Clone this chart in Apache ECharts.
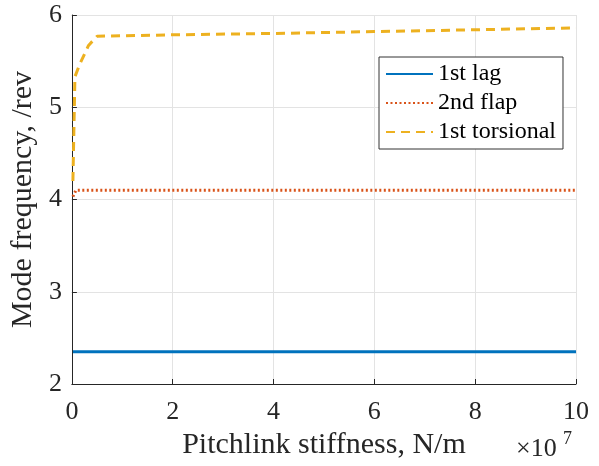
<!DOCTYPE html>
<html>
<head>
<meta charset="utf-8">
<script src="https://cdn.jsdelivr.net/npm/echarts@6/dist/echarts.min.js"></script>
<style>
  html, body { margin: 0; padding: 0; background: #fff; }
  #chart { width: 599px; height: 466px; }
</style>
</head>
<body>
<div id="chart"></div>
<script>
// stiffness in units of 1e7 N/m
const lagX = [0.02, 10];
const lagY = [2.35, 2.35];
const flapX = [0.02, 0.08, 10];
const flapY = [4.03, 4.1, 4.1];
const torsX = [0.02, 0.06, 0.15, 0.33, 0.5, 1, 2, 4, 6, 8, 10];
const torsY = [4.2, 5.33, 5.46, 5.67, 5.77, 5.775, 5.785, 5.8, 5.82, 5.84, 5.86];
const seriesNames = ['1st lag', '2nd flap', '1st torsional'];

const pairs = (xs, ys) => xs.map((x, i) => [x, ys[i]]);
const font = '"Liberation Serif", "Times New Roman", serif';
const axisCol = '#262626';

const chart = echarts.init(document.getElementById('chart'));
chart.setOption({
  backgroundColor: '#fff',
  animation: false,
  grid: { left: 70, right: 23, top: 15, bottom: 82, containLabel: false },
  legend: {
    orient: 'vertical',
    left: 379, top: 57,
    backgroundColor: '#fff',
    borderColor: '#333', borderWidth: 1,
    padding: [5, 7, 5, 6],
    itemWidth: 47, itemHeight: 14, itemGap: 5,
    itemStyle: { color: 'rgba(0,0,0,0)', borderWidth: 0, opacity: 0 },
    textStyle: { fontFamily: font, fontSize: 24, color: '#000' },
    data: seriesNames
  },
  xAxis: {
    type: 'value', min: 0, max: 10, interval: 2,
    name: 'Pitchlink stiffness, N/m',
    nameLocation: 'middle', nameGap: 38,
    nameTextStyle: { fontFamily: font, fontSize: 30, color: '#262626' },
    axisLine: { show: true, lineStyle: { color: axisCol, width: 1 } },
    axisTick: { show: true, inside: true, length: 5, lineStyle: { color: axisCol } },
    axisLabel: { fontFamily: font, fontSize: 26, color: '#262626', margin: 15 },
    splitLine: { show: true, lineStyle: { color: '#e3e3e3', width: 1 } }
  },
  yAxis: {
    type: 'value', min: 2, max: 6, interval: 1,
    name: 'Mode frequency, /rev',
    nameLocation: 'middle', nameGap: 25,
    nameTextStyle: { fontFamily: font, fontSize: 30, color: '#262626' },
    axisLine: { show: true, lineStyle: { color: axisCol, width: 1 } },
    axisTick: { show: true, inside: true, length: 5, lineStyle: { color: axisCol } },
    axisLabel: { fontFamily: font, fontSize: 26, color: '#262626', margin: 10 },
    splitLine: { show: true, lineStyle: { color: '#e3e3e3', width: 1 } }
  },
  graphic: [{
    type: 'text', left: 516, top: 436,
    style: { text: '×10', font: '26px "Liberation Serif", serif', fill: '#262626' }
  }, {
    type: 'text', left: 563, top: 430,
    style: { text: '7', font: '18px "Liberation Serif", serif', fill: '#262626' }
  }],
  series: [{
    name: seriesNames[0], type: 'line', symbol: 'none',
    data: pairs(lagX, lagY),
    lineStyle: { color: '#0072BD', width: 3 },
    itemStyle: { color: '#0072BD' }
  }, {
    name: seriesNames[1], type: 'line', symbol: 'none',
    data: pairs(flapX, flapY),
    lineStyle: { color: '#D95319', width: 3, type: [2, 2.5] },
    itemStyle: { color: '#D95319' }
  }, {
    name: seriesNames[2], type: 'line', symbol: 'none',
    data: pairs(torsX, torsY),
    lineStyle: { color: '#EDB120', width: 3, type: [9, 6] },
    itemStyle: { color: '#EDB120' }
  }]
});
</script>
</body>
</html>
